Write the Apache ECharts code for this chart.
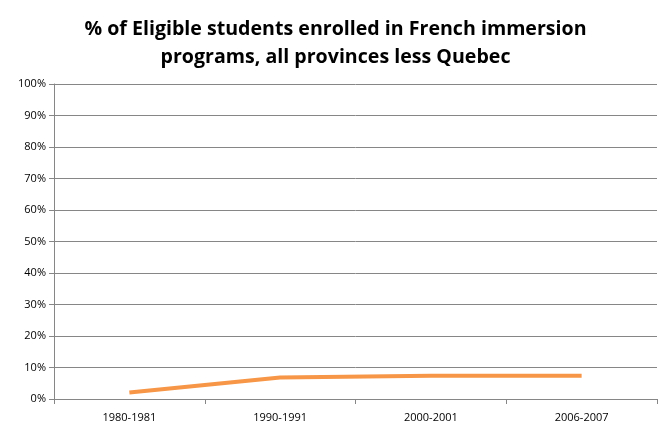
<!DOCTYPE html>
<html>
<head>
<meta charset="utf-8">
<script src="https://cdn.jsdelivr.net/npm/echarts@6/dist/echarts.min.js"></script>
<style>
  html, body { margin: 0; padding: 0; background: #fff; }
  #chart { width: 671px; height: 440px; }
</style>
</head>
<body>
<div id="chart"></div>
<script>
var years = ['1980-1981', '1990-1991', '2000-2001', '2006-2007'];
var enrolled = [2.1, 6.8, 7.4, 7.4];
var yTicks = [0, 10, 20, 30, 40, 50, 60, 70, 80, 90, 100];

var myChart = echarts.init(document.getElementById('chart'));
var option = {
    backgroundColor: '#fff',
    title: {
        text: '% of Eligible students enrolled in French immersion\nprograms, all provinces less Quebec',
        left: 'center',
        top: 10,
        textStyle: {
            fontFamily: 'Open Sans',
            fontWeight: 'bold',
            fontSize: 19.6,
            lineHeight: 28,
            color: '#000'
        }
    },
    grid: { left: 54, right: 14, top: 84, bottom: 41 },
    xAxis: {
        type: 'category',
        data: years,
        boundaryGap: true,
        axisLine: { lineStyle: { color: '#868686', width: 1 } },
        axisTick: { show: true, length: 5, lineStyle: { color: '#868686' } },
        axisLabel: { color: '#000', fontFamily: 'Open Sans', fontSize: 11, margin: 13 }
    },
    yAxis: {
        type: 'value',
        min: yTicks[0],
        max: yTicks[yTicks.length - 1],
        interval: 10,
        axisLine: { show: true, lineStyle: { color: '#868686', width: 1 } },
        axisTick: { show: true, length: 5, lineStyle: { color: '#868686' } },
        axisLabel: { color: '#000', fontFamily: 'Open Sans', fontSize: 11, margin: 8, formatter: '{value}%' },
        splitLine: { lineStyle: { color: '#868686', width: 1 } }
    },
    series: [{
        type: 'line',
        data: enrolled,
        symbol: 'none',
        lineStyle: { color: '#F79646', width: 4 },
        itemStyle: { color: '#F79646' }
    }]
};
myChart.setOption(option);
</script>
</body>
</html>
